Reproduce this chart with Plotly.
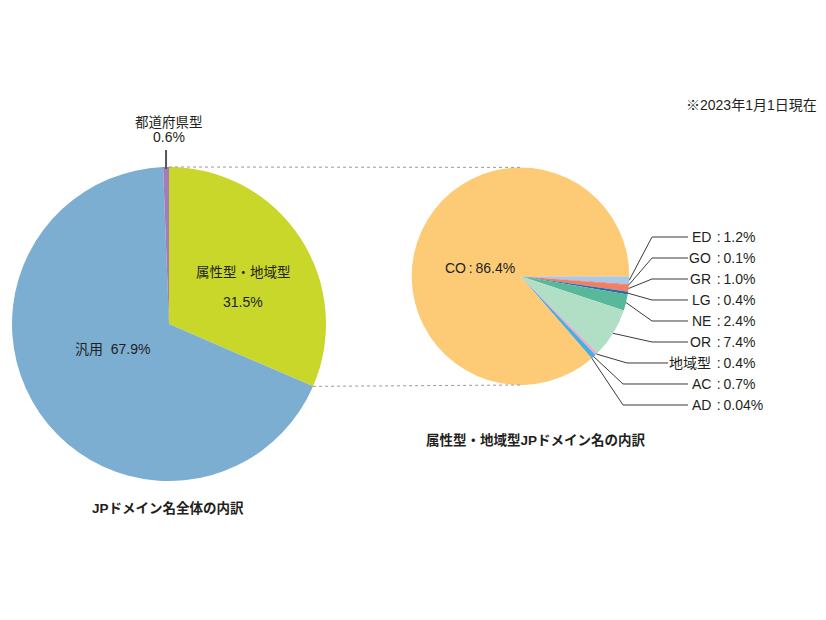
import math
import plotly.graph_objects as go

# ---------------- data ----------------
left_labels = ["属性型・地域型", "汎用", "都道府県型"]
left_values = [31.5, 67.9, 0.6]

right_labels = ["ED", "GO", "GR", "LG", "NE", "OR", "地域型", "AC", "AD", "CO"]
right_values = [1.2, 0.1, 1.0, 0.4, 2.4, 7.4, 0.4, 0.7, 0.04, 86.4]
right_texts = ["1.2%", "0.1%", "1.0%", "0.4%", "2.4%", "7.4%", "0.4%", "0.7%", "0.04%", "86.4%"]

left_title = "JPドメイン名全体の内訳"
right_title = "属性型・地域型JPドメイン名の内訳"
note_text = "※2023年1月1日現在"

# ---------------- styles / layout ----------------
W, H = 826, 620
FONT = "Liberation Sans, Arial, Noto Sans CJK JP"
SEP = "\u2009:\u2009"
left_colors = ["#c9d72b", "#7baed1", "#a47cb8"]
right_colors = ["#a9c9e7", "#e2312d", "#f47d62", "#1f6db2", "#58b89a",
                "#b1dfc6", "#f2a6ca", "#3db3e5", "#e02020", "#fdcb76"]

L_CX, L_CY, L_R = 169, 324, 157
R_CX, R_CY, R_R = 520.5, 276.2, 108.8
R_ROT = 90

def px(x):
    return x / W

def py(y):
    return 1 - y / H

def pt(cx, cy, r, theta_deg):
    t = math.radians(theta_deg)
    return cx + r * math.sin(t), cy - r * math.cos(t)

fig = go.Figure()
fig.add_trace(go.Pie(
    labels=left_labels, values=left_values, sort=False, direction="clockwise",
    rotation=0, textinfo="none", hoverinfo="label+percent",
    marker=dict(colors=left_colors, line=dict(width=0)),
    domain=dict(x=[px(L_CX - L_R), px(L_CX + L_R)], y=[py(L_CY + L_R), py(L_CY - L_R)]),
    showlegend=False,
))
fig.add_trace(go.Pie(
    labels=right_labels, values=right_values, sort=False, direction="clockwise",
    rotation=R_ROT, textinfo="none", hoverinfo="label+percent",
    marker=dict(colors=right_colors, line=dict(width=0)),
    domain=dict(x=[px(R_CX - R_R), px(R_CX + R_R)], y=[py(R_CY + R_R), py(R_CY - R_R)]),
    showlegend=False,
))

shapes = []
annotations = []

def ann(x, y, text, size=14, xanchor="center", bold=False):
    annotations.append(dict(
        x=px(x), y=py(y), xref="paper", yref="paper", text=f"<b>{text}</b>" if bold else text,
        showarrow=False, xanchor=xanchor, yanchor="middle",
        font=dict(family=FONT, size=size, color="#231f20"),
    ))

def path(points, color="#3a3a3a", width=1, dash="solid"):
    d = "M " + " L ".join(f"{px(x):.5f},{py(y):.5f}" for x, y in points)
    shapes.append(dict(type="path", path=d, xref="paper", yref="paper",
                       line=dict(color=color, width=width, dash=dash)))

# dotted connectors between the two pies
ltot = sum(left_values)
top_left = pt(L_CX, L_CY, L_R, 0)
bot_left = pt(L_CX, L_CY, L_R, 360 * left_values[0] / ltot)
path([top_left, (R_CX, R_CY - R_R)], color="#9a9a9a", width=1, dash="dot")
path([bot_left, (R_CX, R_CY + R_R)], color="#9a9a9a", width=1, dash="dot")

# left pie labels
ann(243, 272, left_labels[0], size=13.5)
ann(243, 302, f"{left_values[0]}%", size=14)
ann(112, 349, f"{left_labels[1]}  {left_values[1]}%", size=14)
ann(169, 122, left_labels[2], size=13.5)
ann(169, 137, f"{left_values[2]}%", size=14)
purple_mid = pt(L_CX, L_CY, L_R, 360 * (1 - left_values[2] / ltot / 2))
path([(purple_mid[0], 150), (purple_mid[0], purple_mid[1] + 2)], color="#555555", width=2)

# right pie: CO label
ann(480, 268, f"{right_labels[-1]}{SEP}{right_texts[-1]}", size=14)

# right pie leader lines & labels
label_ys = [237, 258, 279, 300, 321, 342, 363, 384, 405]
elbow_xs = [652, 652, 652, 652, 652, 652, 627, 623, 623]
line_ends = [688, 688, 688, 688, 688, 688, 668, 688, 688]
NAME_RIGHT = 713
rtot = sum(right_values)
cum = 0
for i in range(9):
    v = right_values[i]
    theta = R_ROT + 360 * (cum + v / 2) / rtot
    cum += v
    ax, ay = pt(R_CX, R_CY, R_R, theta)
    path([(ax, ay), (elbow_xs[i], label_ys[i]), (line_ends[i], label_ys[i])])
    ann(NAME_RIGHT, label_ys[i], right_labels[i], size=14, xanchor="right")
    ann(NAME_RIGHT - 1, label_ys[i], f"{SEP}{right_texts[i]}", size=14, xanchor="left")

# titles & note
ann(168, 508, left_title, size=13.5, bold=True)
ann(536, 440, right_title, size=13.5, bold=True)
ann(751, 105, note_text, size=14)

fig.update_layout(
    width=W, height=H, margin=dict(l=0, r=0, t=0, b=0),
    paper_bgcolor="white", plot_bgcolor="white",
    shapes=shapes, annotations=annotations,
)
fig.write_html("out.html")
